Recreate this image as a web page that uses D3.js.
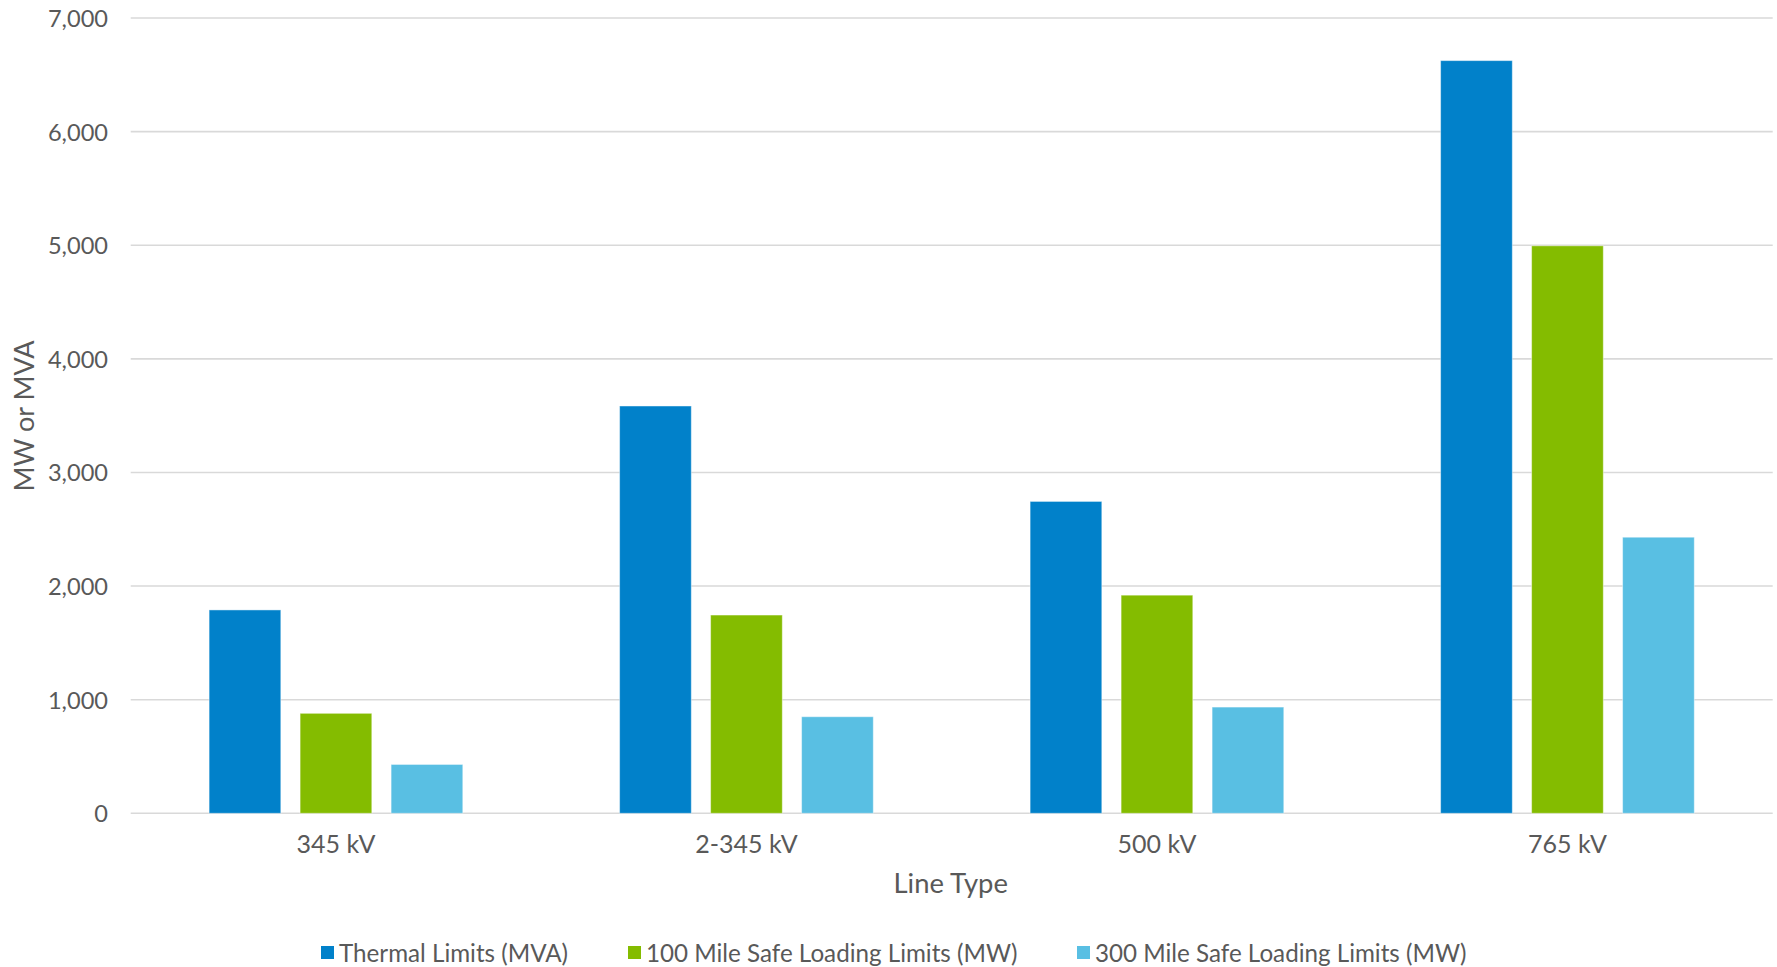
<!DOCTYPE html>
<html>
<head>
<meta charset="utf-8">
<script src="https://cdn.jsdelivr.net/npm/d3@7"></script>
<style>
  html, body { margin: 0; padding: 0; background: #fff; }
  svg { display: block; font-family: Lato, "Open Sans", sans-serif; }
</style>
</head>
<body>
<svg id="chart" width="1777" height="967"></svg>
<script>
// Line types along the x axis
const categories = ["345 kV", "2-345 kV", "500 kV", "765 kV"];
// Series names and colours
const seriesNames = ["Thermal Limits (MVA)", "100 Mile Safe Loading Limits (MW)", "300 Mile Safe Loading Limits (MW)"];
const seriesColors = ["#0181CA", "#84BC00", "#59BFE3"];
// Values per series, in category order
const thermal = [1790, 3585, 2745, 6625];
const safe100 = [880, 1745, 1920, 4995];
const safe300 = [430, 850, 935, 2430];
const seriesValues = [thermal, safe100, safe300];
// Y axis ticks
const yTicks = [0, 1000, 2000, 3000, 4000, 5000, 6000, 7000];

const svg = d3.select("#chart");
const plot = { left: 130.7, right: 1772.7, top: 18, bottom: 813.3 };
const textColor = "#595959";

const y = d3.scaleLinear().domain([0, 7000]).range([plot.bottom, plot.top]);
const x0 = d3.scaleBand().domain(categories).range([plot.left, plot.right])
  .paddingInner(0.382).paddingOuter(0.191);
const x1 = d3.scaleBand().domain(d3.range(seriesNames.length)).range([0, x0.bandwidth()])
  .paddingInner(0.212).paddingOuter(0);

// Horizontal gridlines
svg.append("g").selectAll("line").data(yTicks).join("line")
  .attr("x1", plot.left).attr("x2", plot.right)
  .attr("y1", d => y(d)).attr("y2", d => y(d))
  .attr("stroke", "#D9D9D9").attr("stroke-width", 1.6);

// Y axis tick labels
const yAxis = d3.axisLeft(y).tickValues(yTicks).tickFormat(d3.format(",")).tickSize(0).tickPadding(0);
const gy = svg.append("g").attr("transform", `translate(108,0)`).call(yAxis);
gy.select(".domain").remove();
gy.selectAll("text").attr("fill", textColor).style("font-size", "23.6px")
  .style("font-family", "Lato, sans-serif").attr("dy", "0.36em");

// Bars
const groups = svg.append("g").selectAll("g").data(categories).join("g")
  .attr("transform", d => `translate(${x0(d)},0)`);
groups.selectAll("rect")
  .data((c, ci) => seriesValues.map((vals, si) => ({ si, v: vals[ci] })))
  .join("rect")
  .attr("x", d => x1(d.si))
  .attr("width", x1.bandwidth())
  .attr("y", d => y(d.v))
  .attr("height", d => y(0) - y(d.v))
  .attr("fill", d => seriesColors[d.si])
  .attr("stroke", "rgba(255,255,255,0.45)")
  .attr("stroke-width", 1);

// Category labels
const xAxis = d3.axisBottom(x0).tickSize(0).tickPadding(0);
const gx = svg.append("g").attr("transform", `translate(0,853)`).call(xAxis);
gx.select(".domain").remove();
gx.selectAll("text").attr("fill", textColor).style("font-size", "25px")
  .style("font-family", "Lato, sans-serif").attr("y", 0).attr("dy", "0");

// Axis titles
svg.append("text").attr("x", (plot.left + plot.right) / 2 - 1).attr("y", 893)
  .attr("text-anchor", "middle").attr("fill", textColor).style("font-size", "27.4px")
  .text("Line Type");
svg.append("text").attr("transform", `translate(34,416) rotate(-90)`)
  .attr("text-anchor", "middle").attr("fill", textColor).style("font-size", "27px")
  .text("MW or MVA");

// Legend
const legendX = [321, 628, 1077];
const legend = svg.append("g").selectAll("g").data(seriesNames).join("g")
  .attr("transform", (d, i) => `translate(${legendX[i]},953)`);
legend.append("rect").attr("x", 0).attr("y", -7).attr("width", 13).attr("height", 13)
  .attr("fill", (d, i) => seriesColors[i]);
legend.append("text").attr("x", 18).attr("y", 0).attr("dy", "0.36em")
  .attr("fill", textColor).style("font-size", "24.2px").text(d => d);
</script>
</body>
</html>
